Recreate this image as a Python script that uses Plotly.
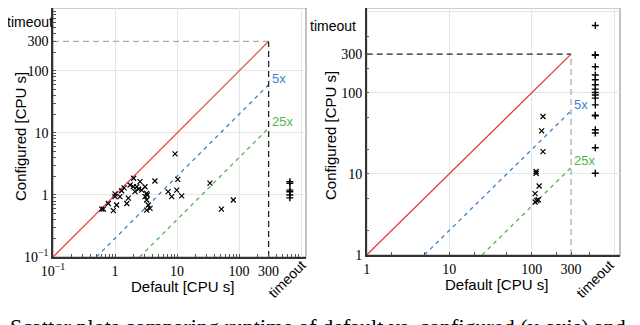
import math

import plotly.graph_objects as go

# left panel: scatter of default vs configured runtime [CPU s]
left_default = [9.3, 4.4, 2.0, 1.75, 1.97, 2.24, 2.53, 3.05, 1.28, 1.0, 1.0, 1.2, 1.64, 1.55,
                1.06, 0.78, 0.65, 0.61, 0.94, 2.1, 2.69, 3.24, 3.05, 3.24, 3.44, 3.67, 3.24,
                7.2, 9.9, 8.2, 11.9, 34, 52, 81, 10.3, 1.4, 2.4, 3.3]
left_config = [4.6, 1.68, 1.86, 1.45, 1.36, 1.36, 1.64, 1.36, 1.17, 1.04, 0.94, 0.94, 0.89, 0.73,
               0.69, 0.73, 0.59, 0.59, 0.56, 1.13, 1.2, 1.06, 0.94, 0.83, 0.69, 0.61, 0.57,
               1.13, 1.2, 0.94, 0.97, 1.55, 0.59, 0.83, 1.79, 1.3, 1.25, 1.0]
left_timeout_config = [1.64, 1.55, 1.2, 1.13, 1.0, 0.9]

# right panel
right_default = [137, 132, 137, 113, 113, 123, 110, 120, 110, 115]
right_config = [51, 34, 18.8, 10.7, 10.2, 7.1, 5.7, 4.8, 4.5, 4.7]
right_timeout_config = [295, 290, 210, 166, 145, 126, 111, 101, 94, 86, 71, 53, 52, 35, 32, 21, 10.2]

TIMEOUT = 300
LEFT_TO_X = 660      # where "timeout" sits on the log axes
RIGHT_TO_X, RIGHT_TO_Y = 590, 675

left_ticks = [0.1, 1, 10, 100, 300]
left_ticktext = ['10<sup>−1</sup>', '1', '10', '100', '300']
right_ticks = [1, 10, 100, 300]
right_ticktext = ['1', '10', '100', '300']

RED, BLUE, GREEN = '#e8322f', '#3b82d0', '#4cb848'
SANS = 'Liberation Sans'
SERIF = 'Liberation Serif'

# the page has an 8px body margin, so the figure is laid out in screen pixels minus 8
OFF, W, H = 8, 632, 317


def px(sx):
    return (sx - OFF) / W


def py(sy):
    return min(1.0, 1 - (sy - OFF) / H)


fig = go.Figure()


def add_panel(xr, yr, lo, dflt, conf, to_conf, to_x, hline_col, vline_col):
    # y = x, 5x, 25x reference lines
    fig.add_trace(go.Scatter(x=[lo, TIMEOUT], y=[lo, TIMEOUT], mode='lines',
                             line=dict(color=RED, width=1.2), xaxis=xr, yaxis=yr))
    fig.add_trace(go.Scatter(x=[lo * 5, TIMEOUT], y=[lo, TIMEOUT / 5], mode='lines',
                             line=dict(color=BLUE, width=1.3, dash='4px,4px'), xaxis=xr, yaxis=yr))
    fig.add_trace(go.Scatter(x=[lo * 25, TIMEOUT], y=[lo, TIMEOUT / 25], mode='lines',
                             line=dict(color=GREEN, width=1.3, dash='4px,4px'), xaxis=xr, yaxis=yr))
    # timeout limits
    fig.add_trace(go.Scatter(x=[lo, TIMEOUT], y=[TIMEOUT, TIMEOUT], mode='lines',
                             line=dict(color=hline_col, width=1.3, dash='6px,4px'), xaxis=xr, yaxis=yr))
    fig.add_trace(go.Scatter(x=[TIMEOUT, TIMEOUT], y=[lo, TIMEOUT], mode='lines',
                             line=dict(color=vline_col, width=1.3, dash='6px,4px'), xaxis=xr, yaxis=yr))
    # points
    fig.add_trace(go.Scatter(x=dflt, y=conf, mode='markers', xaxis=xr, yaxis=yr,
                             marker=dict(symbol='x-thin', size=5, line=dict(color='black', width=1.2))))
    fig.add_trace(go.Scatter(x=[to_x] * len(to_conf), y=to_conf, mode='markers', xaxis=xr, yaxis=yr,
                             marker=dict(symbol='cross-thin', size=5, line=dict(color='black', width=1.4))))
    for txt, yv, col in [('5x', TIMEOUT / 5, BLUE), ('25x', TIMEOUT / 25, GREEN)]:
        fig.add_annotation(x=math.log10(TIMEOUT), y=math.log10(yv), xref=xr, yref=yr, text=txt,
                           showarrow=False, xanchor='left', yanchor='bottom', xshift=1, yshift=-3,
                           font=dict(family=SANS, size=13, color=col))


add_panel('x', 'y', 0.1, left_default, left_config, left_timeout_config,
          LEFT_TO_X, '#aaaaaa', '#222222')
# right panel: one run timed out in both settings
add_panel('x2', 'y2', 1, right_default, right_config, right_timeout_config + [RIGHT_TO_Y],
          RIGHT_TO_X, '#222222', '#aaaaaa')


def minors(lo, hi, mults):
    out = []
    d = lo
    while d < hi:
        out += [d * m for m in mults]
        d *= 10
    return out


def axis_kw(rng, ticks, text, grid, mults, domain, anchor):
    mt = minors(ticks[0], 1000, mults)
    return dict(type='log', range=rng, domain=domain, anchor=anchor, automargin=False,
                tickvals=ticks + mt, ticktext=text + [''] * len(mt),
                ticks='inside', ticklen=3, tickcolor='#555',
                tickfont=dict(family=SERIF, size=14, color='black'),
                showgrid=False, zeroline=False,
                showline=True, linecolor='#333', linewidth=1.5,
                minor=dict(tickvals=grid, showgrid=True, gridcolor='#e6e6e6', gridwidth=1, ticks=''))


# panel tops sit above the visible page edge, so trim the y ranges to keep the scale
fig.update_layout(
    xaxis=axis_kw([-1, 3.08], left_ticks, left_ticktext, [1, 10, 100, 1000], range(2, 10),
                  [px(53), px(306)], 'y'),
    yaxis=axis_kw([-1, 3.08 - (OFF - 4) / 62], left_ticks, left_ticktext, [1, 10, 100, 1000],
                  range(2, 10), [py(257), py(OFF)], 'x'),
    xaxis2=axis_kw([0, 3.07], right_ticks, right_ticktext, [10, 100, 1000], [2, 5],
                   [px(366.7), px(620)], 'y2'),
    yaxis2=axis_kw([0, 3.12 - (OFF - 2) / 81], right_ticks, right_ticktext, [10, 100, 1000],
                   [2, 5], [py(255), py(OFF)], 'x2'),
    showlegend=False,
    plot_bgcolor='white',
    paper_bgcolor='white',
    margin=dict(l=0, r=0, t=0, b=0),
    width=W,
    height=H,
)

# light frame on top/right of each panel
for x0, x1, y1 in [(53, 306, 257), (366.7, 620, 255)]:
    fig.add_shape(type='rect', xref='paper', yref='paper', x0=px(x0), x1=px(x1),
                  y0=py(y1), y1=1, line=dict(color='#999', width=1.2), layer='below')

labels = [
    ('timeout', 55, 22, 'right', 0, 14),
    ('timeout', 358, 26, 'right', 0, 14),
    ('timeout', 287, 279, 'center', -45, 14),
    ('timeout', 595, 279, 'center', -45, 14),
    ('Default [CPU s]', 182, 286, 'center', 0, 15),
    ('Default [CPU s]', 496, 284, 'center', 0, 15),
    ('Configured [CPU s]', 20, 137, 'center', -90, 15),
    ('Configured [CPU s]', 331, 135, 'center', -90, 15),
]
for txt, sx, sy, xa, ang, sz in labels:
    fig.add_annotation(x=px(sx), y=py(sy), xref='paper', yref='paper', text=txt,
                       showarrow=False, xanchor=xa, yanchor='middle', textangle=ang,
                       font=dict(family=SANS, size=sz, color='black'))

fig.add_annotation(x=0, y=py(312), xref='paper', yref='paper', xanchor='left', yanchor='top',
                   text='Scatter plots comparing runtime of default vs. configured (y-axis) and default',
                   showarrow=False, font=dict(family=SERIF, size=22, color='black'))

fig.write_html('out.html')
